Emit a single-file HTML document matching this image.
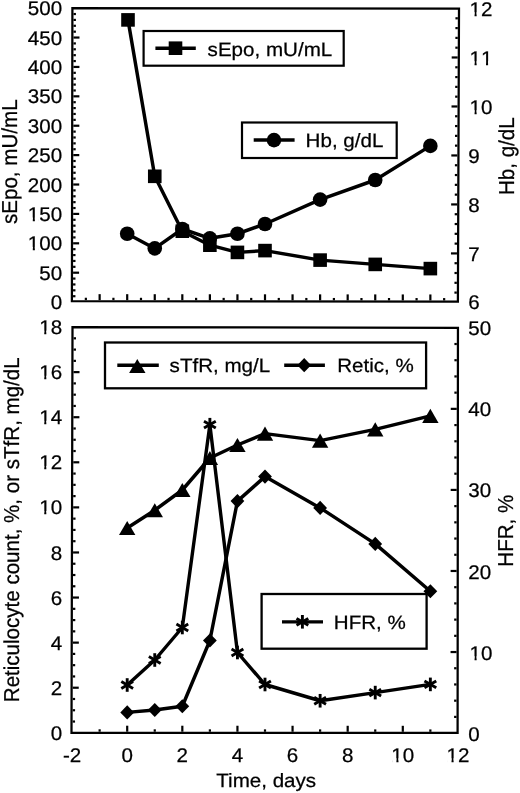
<!DOCTYPE html>
<html><head><meta charset="utf-8"><title>Chart</title>
<style>html,body{margin:0;padding:0;background:#fff;}svg{display:block;will-change:transform;}</style></head>
<body>
<svg width="520" height="793" viewBox="0 0 520 793">
<rect x="0" y="0" width="520" height="793" fill="#fff"/>
<polygon points="72.40,8.15 459.00,8.50 457.90,301.60 71.90,301.25" fill="none" stroke="#000" stroke-width="2.25" stroke-linejoin="miter"/>
<line x1="73.04" y1="296.22" x2="75.44" y2="296.22" stroke="#000" stroke-width="2.2" stroke-linecap="butt"/>
<line x1="73.05" y1="290.34" x2="75.45" y2="290.34" stroke="#000" stroke-width="2.2" stroke-linecap="butt"/>
<line x1="73.06" y1="284.46" x2="75.46" y2="284.46" stroke="#000" stroke-width="2.2" stroke-linecap="butt"/>
<line x1="73.07" y1="278.58" x2="75.47" y2="278.58" stroke="#000" stroke-width="2.2" stroke-linecap="butt"/>
<line x1="73.08" y1="272.70" x2="79.08" y2="272.70" stroke="#000" stroke-width="2.2" stroke-linecap="butt"/>
<line x1="73.09" y1="266.83" x2="75.49" y2="266.83" stroke="#000" stroke-width="2.2" stroke-linecap="butt"/>
<line x1="73.09" y1="260.95" x2="75.50" y2="260.95" stroke="#000" stroke-width="2.2" stroke-linecap="butt"/>
<line x1="73.11" y1="255.07" x2="75.51" y2="255.07" stroke="#000" stroke-width="2.2" stroke-linecap="butt"/>
<line x1="73.12" y1="249.19" x2="75.52" y2="249.19" stroke="#000" stroke-width="2.2" stroke-linecap="butt"/>
<line x1="73.12" y1="243.31" x2="79.12" y2="243.31" stroke="#000" stroke-width="2.2" stroke-linecap="butt"/>
<line x1="73.14" y1="237.43" x2="75.54" y2="237.43" stroke="#000" stroke-width="2.2" stroke-linecap="butt"/>
<line x1="73.15" y1="231.55" x2="75.55" y2="231.55" stroke="#000" stroke-width="2.2" stroke-linecap="butt"/>
<line x1="73.16" y1="225.67" x2="75.56" y2="225.67" stroke="#000" stroke-width="2.2" stroke-linecap="butt"/>
<line x1="73.17" y1="219.79" x2="75.57" y2="219.79" stroke="#000" stroke-width="2.2" stroke-linecap="butt"/>
<line x1="73.18" y1="213.91" x2="79.18" y2="213.91" stroke="#000" stroke-width="2.2" stroke-linecap="butt"/>
<line x1="73.19" y1="208.04" x2="75.59" y2="208.04" stroke="#000" stroke-width="2.2" stroke-linecap="butt"/>
<line x1="73.20" y1="202.16" x2="75.60" y2="202.16" stroke="#000" stroke-width="2.2" stroke-linecap="butt"/>
<line x1="73.21" y1="196.28" x2="75.61" y2="196.28" stroke="#000" stroke-width="2.2" stroke-linecap="butt"/>
<line x1="73.22" y1="190.40" x2="75.62" y2="190.40" stroke="#000" stroke-width="2.2" stroke-linecap="butt"/>
<line x1="73.23" y1="184.52" x2="79.23" y2="184.52" stroke="#000" stroke-width="2.2" stroke-linecap="butt"/>
<line x1="73.23" y1="178.64" x2="75.64" y2="178.64" stroke="#000" stroke-width="2.2" stroke-linecap="butt"/>
<line x1="73.25" y1="172.76" x2="75.65" y2="172.76" stroke="#000" stroke-width="2.2" stroke-linecap="butt"/>
<line x1="73.26" y1="166.88" x2="75.66" y2="166.88" stroke="#000" stroke-width="2.2" stroke-linecap="butt"/>
<line x1="73.27" y1="161.00" x2="75.67" y2="161.00" stroke="#000" stroke-width="2.2" stroke-linecap="butt"/>
<line x1="73.28" y1="155.12" x2="79.28" y2="155.12" stroke="#000" stroke-width="2.2" stroke-linecap="butt"/>
<line x1="73.29" y1="149.25" x2="75.69" y2="149.25" stroke="#000" stroke-width="2.2" stroke-linecap="butt"/>
<line x1="73.30" y1="143.37" x2="75.70" y2="143.37" stroke="#000" stroke-width="2.2" stroke-linecap="butt"/>
<line x1="73.31" y1="137.49" x2="75.71" y2="137.49" stroke="#000" stroke-width="2.2" stroke-linecap="butt"/>
<line x1="73.32" y1="131.61" x2="75.72" y2="131.61" stroke="#000" stroke-width="2.2" stroke-linecap="butt"/>
<line x1="73.33" y1="125.73" x2="79.33" y2="125.73" stroke="#000" stroke-width="2.2" stroke-linecap="butt"/>
<line x1="73.34" y1="119.85" x2="75.74" y2="119.85" stroke="#000" stroke-width="2.2" stroke-linecap="butt"/>
<line x1="73.34" y1="113.97" x2="75.75" y2="113.97" stroke="#000" stroke-width="2.2" stroke-linecap="butt"/>
<line x1="73.36" y1="108.09" x2="75.76" y2="108.09" stroke="#000" stroke-width="2.2" stroke-linecap="butt"/>
<line x1="73.37" y1="102.21" x2="75.77" y2="102.21" stroke="#000" stroke-width="2.2" stroke-linecap="butt"/>
<line x1="73.38" y1="96.33" x2="79.38" y2="96.33" stroke="#000" stroke-width="2.2" stroke-linecap="butt"/>
<line x1="73.39" y1="90.46" x2="75.79" y2="90.46" stroke="#000" stroke-width="2.2" stroke-linecap="butt"/>
<line x1="73.40" y1="84.58" x2="75.80" y2="84.58" stroke="#000" stroke-width="2.2" stroke-linecap="butt"/>
<line x1="73.41" y1="78.70" x2="75.81" y2="78.70" stroke="#000" stroke-width="2.2" stroke-linecap="butt"/>
<line x1="73.42" y1="72.82" x2="75.82" y2="72.82" stroke="#000" stroke-width="2.2" stroke-linecap="butt"/>
<line x1="73.43" y1="66.94" x2="79.43" y2="66.94" stroke="#000" stroke-width="2.2" stroke-linecap="butt"/>
<line x1="73.44" y1="61.06" x2="75.84" y2="61.06" stroke="#000" stroke-width="2.2" stroke-linecap="butt"/>
<line x1="73.45" y1="55.18" x2="75.85" y2="55.18" stroke="#000" stroke-width="2.2" stroke-linecap="butt"/>
<line x1="73.46" y1="49.30" x2="75.86" y2="49.30" stroke="#000" stroke-width="2.2" stroke-linecap="butt"/>
<line x1="73.47" y1="43.42" x2="75.87" y2="43.42" stroke="#000" stroke-width="2.2" stroke-linecap="butt"/>
<line x1="73.48" y1="37.54" x2="79.48" y2="37.54" stroke="#000" stroke-width="2.2" stroke-linecap="butt"/>
<line x1="73.48" y1="31.67" x2="75.89" y2="31.67" stroke="#000" stroke-width="2.2" stroke-linecap="butt"/>
<line x1="73.50" y1="25.79" x2="75.90" y2="25.79" stroke="#000" stroke-width="2.2" stroke-linecap="butt"/>
<line x1="73.51" y1="19.91" x2="75.91" y2="19.91" stroke="#000" stroke-width="2.2" stroke-linecap="butt"/>
<line x1="73.52" y1="14.03" x2="75.92" y2="14.03" stroke="#000" stroke-width="2.2" stroke-linecap="butt"/>
<line x1="456.81" y1="292.60" x2="454.41" y2="292.60" stroke="#000" stroke-width="2.2" stroke-linecap="butt"/>
<line x1="456.85" y1="282.81" x2="454.45" y2="282.81" stroke="#000" stroke-width="2.2" stroke-linecap="butt"/>
<line x1="456.88" y1="273.01" x2="454.49" y2="273.01" stroke="#000" stroke-width="2.2" stroke-linecap="butt"/>
<line x1="456.92" y1="263.21" x2="454.52" y2="263.21" stroke="#000" stroke-width="2.2" stroke-linecap="butt"/>
<line x1="456.96" y1="253.42" x2="450.96" y2="253.42" stroke="#000" stroke-width="2.2" stroke-linecap="butt"/>
<line x1="457.00" y1="243.62" x2="454.60" y2="243.62" stroke="#000" stroke-width="2.2" stroke-linecap="butt"/>
<line x1="457.03" y1="233.82" x2="454.63" y2="233.82" stroke="#000" stroke-width="2.2" stroke-linecap="butt"/>
<line x1="457.07" y1="224.03" x2="454.67" y2="224.03" stroke="#000" stroke-width="2.2" stroke-linecap="butt"/>
<line x1="457.10" y1="214.23" x2="454.70" y2="214.23" stroke="#000" stroke-width="2.2" stroke-linecap="butt"/>
<line x1="457.14" y1="204.43" x2="451.14" y2="204.43" stroke="#000" stroke-width="2.2" stroke-linecap="butt"/>
<line x1="457.18" y1="194.64" x2="454.78" y2="194.64" stroke="#000" stroke-width="2.2" stroke-linecap="butt"/>
<line x1="457.21" y1="184.84" x2="454.81" y2="184.84" stroke="#000" stroke-width="2.2" stroke-linecap="butt"/>
<line x1="457.25" y1="175.04" x2="454.85" y2="175.04" stroke="#000" stroke-width="2.2" stroke-linecap="butt"/>
<line x1="457.29" y1="165.25" x2="454.89" y2="165.25" stroke="#000" stroke-width="2.2" stroke-linecap="butt"/>
<line x1="457.32" y1="155.45" x2="451.32" y2="155.45" stroke="#000" stroke-width="2.2" stroke-linecap="butt"/>
<line x1="457.36" y1="145.65" x2="454.96" y2="145.65" stroke="#000" stroke-width="2.2" stroke-linecap="butt"/>
<line x1="457.40" y1="135.86" x2="455.00" y2="135.86" stroke="#000" stroke-width="2.2" stroke-linecap="butt"/>
<line x1="457.44" y1="126.06" x2="455.04" y2="126.06" stroke="#000" stroke-width="2.2" stroke-linecap="butt"/>
<line x1="457.47" y1="116.26" x2="455.07" y2="116.26" stroke="#000" stroke-width="2.2" stroke-linecap="butt"/>
<line x1="457.51" y1="106.47" x2="451.51" y2="106.47" stroke="#000" stroke-width="2.2" stroke-linecap="butt"/>
<line x1="457.55" y1="96.67" x2="455.15" y2="96.67" stroke="#000" stroke-width="2.2" stroke-linecap="butt"/>
<line x1="457.58" y1="86.87" x2="455.18" y2="86.87" stroke="#000" stroke-width="2.2" stroke-linecap="butt"/>
<line x1="457.62" y1="77.08" x2="455.22" y2="77.08" stroke="#000" stroke-width="2.2" stroke-linecap="butt"/>
<line x1="457.65" y1="67.28" x2="455.25" y2="67.28" stroke="#000" stroke-width="2.2" stroke-linecap="butt"/>
<line x1="457.69" y1="57.48" x2="451.69" y2="57.48" stroke="#000" stroke-width="2.2" stroke-linecap="butt"/>
<line x1="457.73" y1="47.69" x2="455.33" y2="47.69" stroke="#000" stroke-width="2.2" stroke-linecap="butt"/>
<line x1="457.76" y1="37.89" x2="455.37" y2="37.89" stroke="#000" stroke-width="2.2" stroke-linecap="butt"/>
<line x1="457.80" y1="28.09" x2="455.40" y2="28.09" stroke="#000" stroke-width="2.2" stroke-linecap="butt"/>
<line x1="457.84" y1="18.30" x2="455.44" y2="18.30" stroke="#000" stroke-width="2.2" stroke-linecap="butt"/>
<line x1="85.86" y1="300.14" x2="85.86" y2="297.74" stroke="#000" stroke-width="2.2" stroke-linecap="butt"/>
<line x1="99.64" y1="300.15" x2="99.64" y2="294.15" stroke="#000" stroke-width="2.2" stroke-linecap="butt"/>
<line x1="113.42" y1="300.16" x2="113.42" y2="297.76" stroke="#000" stroke-width="2.2" stroke-linecap="butt"/>
<line x1="127.20" y1="300.18" x2="127.20" y2="294.18" stroke="#000" stroke-width="2.2" stroke-linecap="butt"/>
<line x1="140.98" y1="300.19" x2="140.98" y2="297.79" stroke="#000" stroke-width="2.2" stroke-linecap="butt"/>
<line x1="154.76" y1="300.20" x2="154.76" y2="294.20" stroke="#000" stroke-width="2.2" stroke-linecap="butt"/>
<line x1="168.54" y1="300.21" x2="168.54" y2="297.81" stroke="#000" stroke-width="2.2" stroke-linecap="butt"/>
<line x1="182.32" y1="300.23" x2="182.32" y2="294.23" stroke="#000" stroke-width="2.2" stroke-linecap="butt"/>
<line x1="196.10" y1="300.24" x2="196.10" y2="297.84" stroke="#000" stroke-width="2.2" stroke-linecap="butt"/>
<line x1="209.88" y1="300.25" x2="209.88" y2="294.25" stroke="#000" stroke-width="2.2" stroke-linecap="butt"/>
<line x1="223.66" y1="300.26" x2="223.66" y2="297.86" stroke="#000" stroke-width="2.2" stroke-linecap="butt"/>
<line x1="237.44" y1="300.28" x2="237.44" y2="294.28" stroke="#000" stroke-width="2.2" stroke-linecap="butt"/>
<line x1="251.22" y1="300.29" x2="251.22" y2="297.89" stroke="#000" stroke-width="2.2" stroke-linecap="butt"/>
<line x1="265.00" y1="300.30" x2="265.00" y2="294.30" stroke="#000" stroke-width="2.2" stroke-linecap="butt"/>
<line x1="278.78" y1="300.31" x2="278.78" y2="297.91" stroke="#000" stroke-width="2.2" stroke-linecap="butt"/>
<line x1="292.56" y1="300.32" x2="292.56" y2="294.32" stroke="#000" stroke-width="2.2" stroke-linecap="butt"/>
<line x1="306.34" y1="300.34" x2="306.34" y2="297.94" stroke="#000" stroke-width="2.2" stroke-linecap="butt"/>
<line x1="320.12" y1="300.35" x2="320.12" y2="294.35" stroke="#000" stroke-width="2.2" stroke-linecap="butt"/>
<line x1="333.90" y1="300.36" x2="333.90" y2="297.96" stroke="#000" stroke-width="2.2" stroke-linecap="butt"/>
<line x1="347.68" y1="300.38" x2="347.68" y2="294.38" stroke="#000" stroke-width="2.2" stroke-linecap="butt"/>
<line x1="361.46" y1="300.39" x2="361.46" y2="297.99" stroke="#000" stroke-width="2.2" stroke-linecap="butt"/>
<line x1="375.24" y1="300.40" x2="375.24" y2="294.40" stroke="#000" stroke-width="2.2" stroke-linecap="butt"/>
<line x1="389.02" y1="300.41" x2="389.02" y2="298.01" stroke="#000" stroke-width="2.2" stroke-linecap="butt"/>
<line x1="402.80" y1="300.43" x2="402.80" y2="294.43" stroke="#000" stroke-width="2.2" stroke-linecap="butt"/>
<line x1="416.58" y1="300.44" x2="416.58" y2="298.04" stroke="#000" stroke-width="2.2" stroke-linecap="butt"/>
<line x1="430.36" y1="300.45" x2="430.36" y2="294.45" stroke="#000" stroke-width="2.2" stroke-linecap="butt"/>
<line x1="444.14" y1="300.46" x2="444.14" y2="298.06" stroke="#000" stroke-width="2.2" stroke-linecap="butt"/>
<text x="0" y="0" font-size="19.8" text-anchor="end" font-family="Liberation Sans, sans-serif" fill="#000" stroke="#000" stroke-width="0.25" text-rendering="geometricPrecision" style="font-kerning:none" transform="translate(62.10 309.15) scale(1.04 1)">0</text>
<text x="0" y="0" font-size="19.8" text-anchor="end" font-family="Liberation Sans, sans-serif" fill="#000" stroke="#000" stroke-width="0.25" text-rendering="geometricPrecision" style="font-kerning:none" transform="translate(62.10 279.75) scale(1.04 1)">50</text>
<text x="0" y="0" font-size="19.8" text-anchor="end" font-family="Liberation Sans, sans-serif" fill="#000" stroke="#000" stroke-width="0.25" text-rendering="geometricPrecision" style="font-kerning:none" transform="translate(62.10 250.36) scale(1.04 1)">100</text>
<rect x="28.61" y="246.88" width="4.18" height="5.48" fill="#fff"/>
<rect x="34.87" y="246.88" width="4.02" height="5.48" fill="#fff"/>
<text x="0" y="0" font-size="19.8" text-anchor="end" font-family="Liberation Sans, sans-serif" fill="#000" stroke="#000" stroke-width="0.25" text-rendering="geometricPrecision" style="font-kerning:none" transform="translate(62.10 220.97) scale(1.04 1)">150</text>
<rect x="28.61" y="217.49" width="4.18" height="5.48" fill="#fff"/>
<rect x="34.87" y="217.49" width="4.02" height="5.48" fill="#fff"/>
<text x="0" y="0" font-size="19.8" text-anchor="end" font-family="Liberation Sans, sans-serif" fill="#000" stroke="#000" stroke-width="0.25" text-rendering="geometricPrecision" style="font-kerning:none" transform="translate(62.10 191.57) scale(1.04 1)">200</text>
<text x="0" y="0" font-size="19.8" text-anchor="end" font-family="Liberation Sans, sans-serif" fill="#000" stroke="#000" stroke-width="0.25" text-rendering="geometricPrecision" style="font-kerning:none" transform="translate(62.10 162.18) scale(1.04 1)">250</text>
<text x="0" y="0" font-size="19.8" text-anchor="end" font-family="Liberation Sans, sans-serif" fill="#000" stroke="#000" stroke-width="0.25" text-rendering="geometricPrecision" style="font-kerning:none" transform="translate(62.10 132.78) scale(1.04 1)">300</text>
<text x="0" y="0" font-size="19.8" text-anchor="end" font-family="Liberation Sans, sans-serif" fill="#000" stroke="#000" stroke-width="0.25" text-rendering="geometricPrecision" style="font-kerning:none" transform="translate(62.10 103.38) scale(1.04 1)">350</text>
<text x="0" y="0" font-size="19.8" text-anchor="end" font-family="Liberation Sans, sans-serif" fill="#000" stroke="#000" stroke-width="0.25" text-rendering="geometricPrecision" style="font-kerning:none" transform="translate(62.10 73.99) scale(1.04 1)">400</text>
<text x="0" y="0" font-size="19.8" text-anchor="end" font-family="Liberation Sans, sans-serif" fill="#000" stroke="#000" stroke-width="0.25" text-rendering="geometricPrecision" style="font-kerning:none" transform="translate(62.10 44.59) scale(1.04 1)">450</text>
<text x="0" y="0" font-size="19.8" text-anchor="end" font-family="Liberation Sans, sans-serif" fill="#000" stroke="#000" stroke-width="0.25" text-rendering="geometricPrecision" style="font-kerning:none" transform="translate(62.10 15.20) scale(1.04 1)">500</text>
<text x="0" y="0" font-size="19.8" text-anchor="start" font-family="Liberation Sans, sans-serif" fill="#000" stroke="#000" stroke-width="0.25" text-rendering="geometricPrecision" style="font-kerning:none" transform="translate(468.30 309.49) scale(1.04 1)">6</text>
<text x="0" y="0" font-size="19.8" text-anchor="start" font-family="Liberation Sans, sans-serif" fill="#000" stroke="#000" stroke-width="0.25" text-rendering="geometricPrecision" style="font-kerning:none" transform="translate(468.30 260.51) scale(1.04 1)">7</text>
<text x="0" y="0" font-size="19.8" text-anchor="start" font-family="Liberation Sans, sans-serif" fill="#000" stroke="#000" stroke-width="0.25" text-rendering="geometricPrecision" style="font-kerning:none" transform="translate(468.30 211.52) scale(1.04 1)">8</text>
<text x="0" y="0" font-size="19.8" text-anchor="start" font-family="Liberation Sans, sans-serif" fill="#000" stroke="#000" stroke-width="0.25" text-rendering="geometricPrecision" style="font-kerning:none" transform="translate(468.30 162.54) scale(1.04 1)">9</text>
<text x="0" y="0" font-size="19.8" text-anchor="start" font-family="Liberation Sans, sans-serif" fill="#000" stroke="#000" stroke-width="0.25" text-rendering="geometricPrecision" style="font-kerning:none" transform="translate(469.50 113.56) scale(1.04 1)">10</text>
<rect x="470.37" y="110.08" width="4.18" height="5.48" fill="#fff"/>
<rect x="476.63" y="110.08" width="4.02" height="5.48" fill="#fff"/>
<text x="0" y="0" font-size="19.8" text-anchor="start" font-family="Liberation Sans, sans-serif" fill="#000" stroke="#000" stroke-width="0.25" text-rendering="geometricPrecision" style="font-kerning:none" transform="translate(469.50 64.57) scale(1.04 1)">11</text>
<rect x="470.37" y="61.09" width="4.18" height="5.48" fill="#fff"/>
<rect x="476.63" y="61.09" width="4.02" height="5.48" fill="#fff"/>
<rect x="481.82" y="61.09" width="4.18" height="5.48" fill="#fff"/>
<rect x="488.08" y="61.09" width="4.02" height="5.48" fill="#fff"/>
<text x="0" y="0" font-size="19.8" text-anchor="start" font-family="Liberation Sans, sans-serif" fill="#000" stroke="#000" stroke-width="0.25" text-rendering="geometricPrecision" style="font-kerning:none" transform="translate(469.50 15.59) scale(1.04 1)">12</text>
<rect x="470.37" y="12.11" width="4.18" height="5.48" fill="#fff"/>
<rect x="476.63" y="12.11" width="4.02" height="5.48" fill="#fff"/>
<polygon points="72.50,327.05 457.95,327.80 457.60,732.95 71.50,732.80" fill="none" stroke="#000" stroke-width="2.25" stroke-linejoin="miter"/>
<line x1="72.65" y1="721.53" x2="75.05" y2="721.53" stroke="#000" stroke-width="2.2" stroke-linecap="butt"/>
<line x1="72.68" y1="710.26" x2="75.08" y2="710.26" stroke="#000" stroke-width="2.2" stroke-linecap="butt"/>
<line x1="72.71" y1="698.99" x2="75.11" y2="698.99" stroke="#000" stroke-width="2.2" stroke-linecap="butt"/>
<line x1="72.74" y1="687.72" x2="78.74" y2="687.72" stroke="#000" stroke-width="2.2" stroke-linecap="butt"/>
<line x1="72.76" y1="676.45" x2="75.16" y2="676.45" stroke="#000" stroke-width="2.2" stroke-linecap="butt"/>
<line x1="72.79" y1="665.17" x2="75.19" y2="665.17" stroke="#000" stroke-width="2.2" stroke-linecap="butt"/>
<line x1="72.82" y1="653.90" x2="75.22" y2="653.90" stroke="#000" stroke-width="2.2" stroke-linecap="butt"/>
<line x1="72.85" y1="642.63" x2="78.85" y2="642.63" stroke="#000" stroke-width="2.2" stroke-linecap="butt"/>
<line x1="72.88" y1="631.36" x2="75.28" y2="631.36" stroke="#000" stroke-width="2.2" stroke-linecap="butt"/>
<line x1="72.90" y1="620.09" x2="75.30" y2="620.09" stroke="#000" stroke-width="2.2" stroke-linecap="butt"/>
<line x1="72.93" y1="608.82" x2="75.33" y2="608.82" stroke="#000" stroke-width="2.2" stroke-linecap="butt"/>
<line x1="72.96" y1="597.55" x2="78.96" y2="597.55" stroke="#000" stroke-width="2.2" stroke-linecap="butt"/>
<line x1="72.99" y1="586.28" x2="75.39" y2="586.28" stroke="#000" stroke-width="2.2" stroke-linecap="butt"/>
<line x1="73.01" y1="575.01" x2="75.41" y2="575.01" stroke="#000" stroke-width="2.2" stroke-linecap="butt"/>
<line x1="73.04" y1="563.74" x2="75.44" y2="563.74" stroke="#000" stroke-width="2.2" stroke-linecap="butt"/>
<line x1="73.07" y1="552.47" x2="79.07" y2="552.47" stroke="#000" stroke-width="2.2" stroke-linecap="butt"/>
<line x1="73.10" y1="541.20" x2="75.50" y2="541.20" stroke="#000" stroke-width="2.2" stroke-linecap="butt"/>
<line x1="73.12" y1="529.92" x2="75.53" y2="529.92" stroke="#000" stroke-width="2.2" stroke-linecap="butt"/>
<line x1="73.15" y1="518.65" x2="75.55" y2="518.65" stroke="#000" stroke-width="2.2" stroke-linecap="butt"/>
<line x1="73.18" y1="507.38" x2="79.18" y2="507.38" stroke="#000" stroke-width="2.2" stroke-linecap="butt"/>
<line x1="73.21" y1="496.11" x2="75.61" y2="496.11" stroke="#000" stroke-width="2.2" stroke-linecap="butt"/>
<line x1="73.24" y1="484.84" x2="75.64" y2="484.84" stroke="#000" stroke-width="2.2" stroke-linecap="butt"/>
<line x1="73.26" y1="473.57" x2="75.66" y2="473.57" stroke="#000" stroke-width="2.2" stroke-linecap="butt"/>
<line x1="73.29" y1="462.30" x2="79.29" y2="462.30" stroke="#000" stroke-width="2.2" stroke-linecap="butt"/>
<line x1="73.32" y1="451.03" x2="75.72" y2="451.03" stroke="#000" stroke-width="2.2" stroke-linecap="butt"/>
<line x1="73.35" y1="439.76" x2="75.75" y2="439.76" stroke="#000" stroke-width="2.2" stroke-linecap="butt"/>
<line x1="73.38" y1="428.49" x2="75.78" y2="428.49" stroke="#000" stroke-width="2.2" stroke-linecap="butt"/>
<line x1="73.40" y1="417.22" x2="79.40" y2="417.22" stroke="#000" stroke-width="2.2" stroke-linecap="butt"/>
<line x1="73.43" y1="405.95" x2="75.83" y2="405.95" stroke="#000" stroke-width="2.2" stroke-linecap="butt"/>
<line x1="73.46" y1="394.68" x2="75.86" y2="394.68" stroke="#000" stroke-width="2.2" stroke-linecap="butt"/>
<line x1="73.49" y1="383.40" x2="75.89" y2="383.40" stroke="#000" stroke-width="2.2" stroke-linecap="butt"/>
<line x1="73.51" y1="372.13" x2="79.51" y2="372.13" stroke="#000" stroke-width="2.2" stroke-linecap="butt"/>
<line x1="73.54" y1="360.86" x2="75.94" y2="360.86" stroke="#000" stroke-width="2.2" stroke-linecap="butt"/>
<line x1="73.57" y1="349.59" x2="75.97" y2="349.59" stroke="#000" stroke-width="2.2" stroke-linecap="butt"/>
<line x1="73.60" y1="338.32" x2="76.00" y2="338.32" stroke="#000" stroke-width="2.2" stroke-linecap="butt"/>
<line x1="456.49" y1="716.89" x2="454.09" y2="716.89" stroke="#000" stroke-width="2.2" stroke-linecap="butt"/>
<line x1="456.50" y1="700.68" x2="454.10" y2="700.68" stroke="#000" stroke-width="2.2" stroke-linecap="butt"/>
<line x1="456.52" y1="684.46" x2="454.12" y2="684.46" stroke="#000" stroke-width="2.2" stroke-linecap="butt"/>
<line x1="456.53" y1="668.25" x2="454.13" y2="668.25" stroke="#000" stroke-width="2.2" stroke-linecap="butt"/>
<line x1="456.55" y1="652.04" x2="450.55" y2="652.04" stroke="#000" stroke-width="2.2" stroke-linecap="butt"/>
<line x1="456.56" y1="635.83" x2="454.16" y2="635.83" stroke="#000" stroke-width="2.2" stroke-linecap="butt"/>
<line x1="456.57" y1="619.62" x2="454.17" y2="619.62" stroke="#000" stroke-width="2.2" stroke-linecap="butt"/>
<line x1="456.59" y1="603.40" x2="454.19" y2="603.40" stroke="#000" stroke-width="2.2" stroke-linecap="butt"/>
<line x1="456.60" y1="587.19" x2="454.20" y2="587.19" stroke="#000" stroke-width="2.2" stroke-linecap="butt"/>
<line x1="456.62" y1="570.98" x2="450.62" y2="570.98" stroke="#000" stroke-width="2.2" stroke-linecap="butt"/>
<line x1="456.63" y1="554.77" x2="454.23" y2="554.77" stroke="#000" stroke-width="2.2" stroke-linecap="butt"/>
<line x1="456.64" y1="538.56" x2="454.24" y2="538.56" stroke="#000" stroke-width="2.2" stroke-linecap="butt"/>
<line x1="456.66" y1="522.34" x2="454.26" y2="522.34" stroke="#000" stroke-width="2.2" stroke-linecap="butt"/>
<line x1="456.67" y1="506.13" x2="454.27" y2="506.13" stroke="#000" stroke-width="2.2" stroke-linecap="butt"/>
<line x1="456.69" y1="489.92" x2="450.69" y2="489.92" stroke="#000" stroke-width="2.2" stroke-linecap="butt"/>
<line x1="456.70" y1="473.71" x2="454.30" y2="473.71" stroke="#000" stroke-width="2.2" stroke-linecap="butt"/>
<line x1="456.71" y1="457.50" x2="454.31" y2="457.50" stroke="#000" stroke-width="2.2" stroke-linecap="butt"/>
<line x1="456.73" y1="441.28" x2="454.33" y2="441.28" stroke="#000" stroke-width="2.2" stroke-linecap="butt"/>
<line x1="456.74" y1="425.07" x2="454.34" y2="425.07" stroke="#000" stroke-width="2.2" stroke-linecap="butt"/>
<line x1="456.75" y1="408.86" x2="450.75" y2="408.86" stroke="#000" stroke-width="2.2" stroke-linecap="butt"/>
<line x1="456.77" y1="392.65" x2="454.37" y2="392.65" stroke="#000" stroke-width="2.2" stroke-linecap="butt"/>
<line x1="456.78" y1="376.44" x2="454.38" y2="376.44" stroke="#000" stroke-width="2.2" stroke-linecap="butt"/>
<line x1="456.80" y1="360.22" x2="454.40" y2="360.22" stroke="#000" stroke-width="2.2" stroke-linecap="butt"/>
<line x1="456.81" y1="344.01" x2="454.41" y2="344.01" stroke="#000" stroke-width="2.2" stroke-linecap="butt"/>
<line x1="99.64" y1="731.69" x2="99.64" y2="729.29" stroke="#000" stroke-width="2.2" stroke-linecap="butt"/>
<line x1="127.20" y1="731.70" x2="127.20" y2="725.70" stroke="#000" stroke-width="2.2" stroke-linecap="butt"/>
<line x1="154.76" y1="731.71" x2="154.76" y2="729.31" stroke="#000" stroke-width="2.2" stroke-linecap="butt"/>
<line x1="182.32" y1="731.72" x2="182.32" y2="725.72" stroke="#000" stroke-width="2.2" stroke-linecap="butt"/>
<line x1="209.88" y1="731.73" x2="209.88" y2="729.33" stroke="#000" stroke-width="2.2" stroke-linecap="butt"/>
<line x1="237.44" y1="731.74" x2="237.44" y2="725.74" stroke="#000" stroke-width="2.2" stroke-linecap="butt"/>
<line x1="265.00" y1="731.75" x2="265.00" y2="729.35" stroke="#000" stroke-width="2.2" stroke-linecap="butt"/>
<line x1="292.56" y1="731.76" x2="292.56" y2="725.76" stroke="#000" stroke-width="2.2" stroke-linecap="butt"/>
<line x1="320.12" y1="731.77" x2="320.12" y2="729.37" stroke="#000" stroke-width="2.2" stroke-linecap="butt"/>
<line x1="347.68" y1="731.78" x2="347.68" y2="725.78" stroke="#000" stroke-width="2.2" stroke-linecap="butt"/>
<line x1="375.24" y1="731.79" x2="375.24" y2="729.39" stroke="#000" stroke-width="2.2" stroke-linecap="butt"/>
<line x1="402.80" y1="731.80" x2="402.80" y2="725.80" stroke="#000" stroke-width="2.2" stroke-linecap="butt"/>
<line x1="430.36" y1="731.81" x2="430.36" y2="729.41" stroke="#000" stroke-width="2.2" stroke-linecap="butt"/>
<text x="0" y="0" font-size="19.8" text-anchor="end" font-family="Liberation Sans, sans-serif" fill="#000" stroke="#000" stroke-width="0.25" text-rendering="geometricPrecision" style="font-kerning:none" transform="translate(62.10 739.85) scale(1.04 1)">0</text>
<text x="0" y="0" font-size="19.8" text-anchor="end" font-family="Liberation Sans, sans-serif" fill="#000" stroke="#000" stroke-width="0.25" text-rendering="geometricPrecision" style="font-kerning:none" transform="translate(62.10 694.77) scale(1.04 1)">2</text>
<text x="0" y="0" font-size="19.8" text-anchor="end" font-family="Liberation Sans, sans-serif" fill="#000" stroke="#000" stroke-width="0.25" text-rendering="geometricPrecision" style="font-kerning:none" transform="translate(62.10 649.68) scale(1.04 1)">4</text>
<text x="0" y="0" font-size="19.8" text-anchor="end" font-family="Liberation Sans, sans-serif" fill="#000" stroke="#000" stroke-width="0.25" text-rendering="geometricPrecision" style="font-kerning:none" transform="translate(62.10 604.60) scale(1.04 1)">6</text>
<text x="0" y="0" font-size="19.8" text-anchor="end" font-family="Liberation Sans, sans-serif" fill="#000" stroke="#000" stroke-width="0.25" text-rendering="geometricPrecision" style="font-kerning:none" transform="translate(62.10 559.52) scale(1.04 1)">8</text>
<text x="0" y="0" font-size="19.8" text-anchor="end" font-family="Liberation Sans, sans-serif" fill="#000" stroke="#000" stroke-width="0.25" text-rendering="geometricPrecision" style="font-kerning:none" transform="translate(62.10 514.43) scale(1.04 1)">10</text>
<rect x="40.06" y="510.95" width="4.18" height="5.48" fill="#fff"/>
<rect x="46.32" y="510.95" width="4.02" height="5.48" fill="#fff"/>
<text x="0" y="0" font-size="19.8" text-anchor="end" font-family="Liberation Sans, sans-serif" fill="#000" stroke="#000" stroke-width="0.25" text-rendering="geometricPrecision" style="font-kerning:none" transform="translate(62.10 469.35) scale(1.04 1)">12</text>
<rect x="40.06" y="465.87" width="4.18" height="5.48" fill="#fff"/>
<rect x="46.32" y="465.87" width="4.02" height="5.48" fill="#fff"/>
<text x="0" y="0" font-size="19.8" text-anchor="end" font-family="Liberation Sans, sans-serif" fill="#000" stroke="#000" stroke-width="0.25" text-rendering="geometricPrecision" style="font-kerning:none" transform="translate(62.10 424.27) scale(1.04 1)">14</text>
<rect x="40.06" y="420.79" width="4.18" height="5.48" fill="#fff"/>
<rect x="46.32" y="420.79" width="4.02" height="5.48" fill="#fff"/>
<text x="0" y="0" font-size="19.8" text-anchor="end" font-family="Liberation Sans, sans-serif" fill="#000" stroke="#000" stroke-width="0.25" text-rendering="geometricPrecision" style="font-kerning:none" transform="translate(62.10 379.18) scale(1.04 1)">16</text>
<rect x="40.06" y="375.70" width="4.18" height="5.48" fill="#fff"/>
<rect x="46.32" y="375.70" width="4.02" height="5.48" fill="#fff"/>
<text x="0" y="0" font-size="19.8" text-anchor="end" font-family="Liberation Sans, sans-serif" fill="#000" stroke="#000" stroke-width="0.25" text-rendering="geometricPrecision" style="font-kerning:none" transform="translate(62.10 334.10) scale(1.04 1)">18</text>
<rect x="40.06" y="330.62" width="4.18" height="5.48" fill="#fff"/>
<rect x="46.32" y="330.62" width="4.02" height="5.48" fill="#fff"/>
<text x="0" y="0" font-size="19.8" text-anchor="start" font-family="Liberation Sans, sans-serif" fill="#000" stroke="#000" stroke-width="0.25" text-rendering="geometricPrecision" style="font-kerning:none" transform="translate(468.30 740.64) scale(1.04 1)">0</text>
<text x="0" y="0" font-size="19.8" text-anchor="start" font-family="Liberation Sans, sans-serif" fill="#000" stroke="#000" stroke-width="0.25" text-rendering="geometricPrecision" style="font-kerning:none" transform="translate(469.50 659.59) scale(1.04 1)">10</text>
<rect x="470.37" y="656.11" width="4.18" height="5.48" fill="#fff"/>
<rect x="476.63" y="656.11" width="4.02" height="5.48" fill="#fff"/>
<text x="0" y="0" font-size="19.8" text-anchor="start" font-family="Liberation Sans, sans-serif" fill="#000" stroke="#000" stroke-width="0.25" text-rendering="geometricPrecision" style="font-kerning:none" transform="translate(468.30 578.52) scale(1.04 1)">20</text>
<text x="0" y="0" font-size="19.8" text-anchor="start" font-family="Liberation Sans, sans-serif" fill="#000" stroke="#000" stroke-width="0.25" text-rendering="geometricPrecision" style="font-kerning:none" transform="translate(468.30 497.46) scale(1.04 1)">30</text>
<text x="0" y="0" font-size="19.8" text-anchor="start" font-family="Liberation Sans, sans-serif" fill="#000" stroke="#000" stroke-width="0.25" text-rendering="geometricPrecision" style="font-kerning:none" transform="translate(468.30 416.40) scale(1.04 1)">40</text>
<text x="0" y="0" font-size="19.8" text-anchor="start" font-family="Liberation Sans, sans-serif" fill="#000" stroke="#000" stroke-width="0.25" text-rendering="geometricPrecision" style="font-kerning:none" transform="translate(468.30 335.34) scale(1.04 1)">50</text>
<text x="0" y="0" font-size="19.8" text-anchor="middle" font-family="Liberation Sans, sans-serif" fill="#000" stroke="#000" stroke-width="0.25" text-rendering="geometricPrecision" style="font-kerning:none" transform="translate(72.08 761.50) scale(1.04 1)">-2</text>
<text x="0" y="0" font-size="19.8" text-anchor="middle" font-family="Liberation Sans, sans-serif" fill="#000" stroke="#000" stroke-width="0.25" text-rendering="geometricPrecision" style="font-kerning:none" transform="translate(127.20 761.52) scale(1.04 1)">0</text>
<text x="0" y="0" font-size="19.8" text-anchor="middle" font-family="Liberation Sans, sans-serif" fill="#000" stroke="#000" stroke-width="0.25" text-rendering="geometricPrecision" style="font-kerning:none" transform="translate(182.32 761.54) scale(1.04 1)">2</text>
<text x="0" y="0" font-size="19.8" text-anchor="middle" font-family="Liberation Sans, sans-serif" fill="#000" stroke="#000" stroke-width="0.25" text-rendering="geometricPrecision" style="font-kerning:none" transform="translate(237.44 761.56) scale(1.04 1)">4</text>
<text x="0" y="0" font-size="19.8" text-anchor="middle" font-family="Liberation Sans, sans-serif" fill="#000" stroke="#000" stroke-width="0.25" text-rendering="geometricPrecision" style="font-kerning:none" transform="translate(292.56 761.59) scale(1.04 1)">6</text>
<text x="0" y="0" font-size="19.8" text-anchor="middle" font-family="Liberation Sans, sans-serif" fill="#000" stroke="#000" stroke-width="0.25" text-rendering="geometricPrecision" style="font-kerning:none" transform="translate(347.68 761.61) scale(1.04 1)">8</text>
<text x="0" y="0" font-size="19.8" text-anchor="middle" font-family="Liberation Sans, sans-serif" fill="#000" stroke="#000" stroke-width="0.25" text-rendering="geometricPrecision" style="font-kerning:none" transform="translate(402.80 761.63) scale(1.04 1)">10</text>
<rect x="392.22" y="758.15" width="4.18" height="5.48" fill="#fff"/>
<rect x="398.48" y="758.15" width="4.02" height="5.48" fill="#fff"/>
<text x="0" y="0" font-size="19.8" text-anchor="middle" font-family="Liberation Sans, sans-serif" fill="#000" stroke="#000" stroke-width="0.25" text-rendering="geometricPrecision" style="font-kerning:none" transform="translate(457.92 761.65) scale(1.04 1)">12</text>
<rect x="447.34" y="758.17" width="4.18" height="5.48" fill="#fff"/>
<rect x="453.60" y="758.17" width="4.02" height="5.48" fill="#fff"/>
<rect x="143.60" y="31.00" width="200.10" height="34.70" fill="#fff" stroke="#000" stroke-width="2.2"/>
<line x1="155.40" y1="48.20" x2="195.80" y2="48.20" stroke="#000" stroke-width="3.45" stroke-linecap="butt"/>
<rect x="168.70" y="41.40" width="13.6" height="13.6" fill="#000"/>
<text x="0" y="0" font-size="19.3" text-anchor="start" font-family="Liberation Sans, sans-serif" fill="#000" stroke="#000" stroke-width="0.25" text-rendering="geometricPrecision" transform="translate(207.60 56.20) scale(1.067 1)">sEpo, mU/mL</text>
<rect x="242.00" y="122.50" width="154.70" height="35.50" fill="#fff" stroke="#000" stroke-width="2.2"/>
<line x1="253.70" y1="140.00" x2="294.60" y2="140.00" stroke="#000" stroke-width="3.45" stroke-linecap="butt"/>
<circle cx="274.00" cy="140.10" r="7.3" fill="#000"/>
<text x="0" y="0" font-size="19.3" text-anchor="start" font-family="Liberation Sans, sans-serif" fill="#000" stroke="#000" stroke-width="0.25" text-rendering="geometricPrecision" transform="translate(305.60 147.20) scale(1.067 1)">Hb, g/dL</text>
<rect x="105.00" y="342.50" width="321.10" height="45.80" fill="#fff" stroke="#000" stroke-width="2.3"/>
<line x1="117.30" y1="365.30" x2="158.80" y2="365.30" stroke="#000" stroke-width="3.45" stroke-linecap="butt"/>
<polygon points="137.30,358.90 145.50,373.10 129.10,373.10" fill="#000"/>
<text x="0" y="0" font-size="19.3" text-anchor="start" font-family="Liberation Sans, sans-serif" fill="#000" stroke="#000" stroke-width="0.25" text-rendering="geometricPrecision" transform="translate(169.60 372.30) scale(1.067 1)">sTfR, mg/L</text>
<line x1="284.20" y1="365.20" x2="324.90" y2="365.20" stroke="#000" stroke-width="3.45" stroke-linecap="butt"/>
<polygon points="304.20,358.10 311.10,365.20 304.20,372.30 297.30,365.20" fill="#000"/>
<text x="0" y="0" font-size="19.3" text-anchor="start" font-family="Liberation Sans, sans-serif" fill="#000" stroke="#000" stroke-width="0.25" text-rendering="geometricPrecision" transform="translate(337.20 372.30) scale(1.067 1)">Retic, %</text>
<rect x="261.60" y="594.00" width="165.00" height="54.70" fill="#fff" stroke="#000" stroke-width="2.3"/>
<line x1="282.00" y1="621.80" x2="323.00" y2="621.80" stroke="#000" stroke-width="3.3" stroke-linecap="butt"/>
<line x1="302.40" y1="615.00" x2="302.40" y2="628.60" stroke="#000" stroke-width="2.9"/>
<line x1="296.51" y1="618.40" x2="308.29" y2="625.20" stroke="#000" stroke-width="2.9"/>
<line x1="308.29" y1="618.40" x2="296.51" y2="625.20" stroke="#000" stroke-width="2.9"/>
<text x="0" y="0" font-size="19.3" text-anchor="start" font-family="Liberation Sans, sans-serif" fill="#000" stroke="#000" stroke-width="0.25" text-rendering="geometricPrecision" transform="translate(333.80 629.00) scale(1.067 1)">HFR, %</text>
<polyline points="128.00,19.90 154.76,176.30 182.32,231.20 209.88,245.20 237.44,252.40 265.00,250.60 320.12,260.10 375.24,264.40 430.36,268.60" fill="none" stroke="#000" stroke-width="3.45" stroke-linejoin="round" stroke-linecap="round"/>
<polyline points="127.20,233.75 154.76,248.40 182.32,229.00 209.88,238.30 237.44,233.75 265.00,224.00 320.12,199.60 375.24,180.00 430.36,145.90" fill="none" stroke="#000" stroke-width="3.45" stroke-linejoin="round" stroke-linecap="round"/>
<rect x="121.20" y="13.10" width="13.6" height="13.6" fill="#000"/>
<rect x="147.96" y="169.50" width="13.6" height="13.6" fill="#000"/>
<rect x="175.52" y="224.40" width="13.6" height="13.6" fill="#000"/>
<rect x="203.08" y="238.40" width="13.6" height="13.6" fill="#000"/>
<rect x="230.64" y="245.60" width="13.6" height="13.6" fill="#000"/>
<rect x="258.20" y="243.80" width="13.6" height="13.6" fill="#000"/>
<rect x="313.32" y="253.30" width="13.6" height="13.6" fill="#000"/>
<rect x="368.44" y="257.60" width="13.6" height="13.6" fill="#000"/>
<rect x="423.56" y="261.80" width="13.6" height="13.6" fill="#000"/>
<circle cx="127.20" cy="233.75" r="7.3" fill="#000"/>
<circle cx="154.76" cy="248.40" r="7.3" fill="#000"/>
<circle cx="182.32" cy="229.00" r="7.3" fill="#000"/>
<circle cx="209.88" cy="238.30" r="7.3" fill="#000"/>
<circle cx="237.44" cy="233.75" r="7.3" fill="#000"/>
<circle cx="265.00" cy="224.00" r="7.3" fill="#000"/>
<circle cx="320.12" cy="199.60" r="7.3" fill="#000"/>
<circle cx="375.24" cy="180.00" r="7.3" fill="#000"/>
<circle cx="430.36" cy="145.90" r="7.3" fill="#000"/>
<polyline points="127.20,528.00 154.76,510.25 182.32,490.00 209.88,458.00 237.44,445.00 265.00,433.60 320.12,440.60 375.24,429.40 430.36,415.90" fill="none" stroke="#000" stroke-width="3.45" stroke-linejoin="round" stroke-linecap="round"/>
<polyline points="127.20,712.40 154.76,710.00 182.32,706.25 209.88,640.50 237.44,501.10 265.00,476.60 320.12,507.90 375.24,543.90 430.36,591.25" fill="none" stroke="#000" stroke-width="3.45" stroke-linejoin="round" stroke-linecap="round"/>
<polyline points="127.20,685.00 154.76,660.00 182.32,627.50 209.88,424.70 237.44,652.50 265.00,684.50 320.12,700.75 375.24,692.60 430.36,684.40" fill="none" stroke="#000" stroke-width="3.4" stroke-linejoin="round" stroke-linecap="round"/>
<polygon points="127.20,520.90 135.40,535.10 119.00,535.10" fill="#000"/>
<polygon points="154.76,503.15 162.96,517.35 146.56,517.35" fill="#000"/>
<polygon points="182.32,482.90 190.52,497.10 174.12,497.10" fill="#000"/>
<polygon points="209.88,450.90 218.08,465.10 201.68,465.10" fill="#000"/>
<polygon points="237.44,437.90 245.64,452.10 229.24,452.10" fill="#000"/>
<polygon points="265.00,426.50 273.20,440.70 256.80,440.70" fill="#000"/>
<polygon points="320.12,433.50 328.32,447.70 311.92,447.70" fill="#000"/>
<polygon points="375.24,422.30 383.44,436.50 367.04,436.50" fill="#000"/>
<polygon points="430.36,408.80 438.56,423.00 422.16,423.00" fill="#000"/>
<polygon points="127.20,705.30 134.10,712.40 127.20,719.50 120.30,712.40" fill="#000"/>
<polygon points="154.76,702.90 161.66,710.00 154.76,717.10 147.86,710.00" fill="#000"/>
<polygon points="182.32,699.15 189.22,706.25 182.32,713.35 175.42,706.25" fill="#000"/>
<polygon points="209.88,633.40 216.78,640.50 209.88,647.60 202.98,640.50" fill="#000"/>
<polygon points="237.44,494.00 244.34,501.10 237.44,508.20 230.54,501.10" fill="#000"/>
<polygon points="265.00,469.50 271.90,476.60 265.00,483.70 258.10,476.60" fill="#000"/>
<polygon points="320.12,500.80 327.02,507.90 320.12,515.00 313.22,507.90" fill="#000"/>
<polygon points="375.24,536.80 382.14,543.90 375.24,551.00 368.34,543.90" fill="#000"/>
<polygon points="430.36,584.15 437.26,591.25 430.36,598.35 423.46,591.25" fill="#000"/>
<line x1="127.20" y1="678.20" x2="127.20" y2="691.80" stroke="#000" stroke-width="2.9"/>
<line x1="121.31" y1="681.60" x2="133.09" y2="688.40" stroke="#000" stroke-width="2.9"/>
<line x1="133.09" y1="681.60" x2="121.31" y2="688.40" stroke="#000" stroke-width="2.9"/>
<line x1="154.76" y1="653.20" x2="154.76" y2="666.80" stroke="#000" stroke-width="2.9"/>
<line x1="148.87" y1="656.60" x2="160.65" y2="663.40" stroke="#000" stroke-width="2.9"/>
<line x1="160.65" y1="656.60" x2="148.87" y2="663.40" stroke="#000" stroke-width="2.9"/>
<line x1="182.32" y1="620.70" x2="182.32" y2="634.30" stroke="#000" stroke-width="2.9"/>
<line x1="176.43" y1="624.10" x2="188.21" y2="630.90" stroke="#000" stroke-width="2.9"/>
<line x1="188.21" y1="624.10" x2="176.43" y2="630.90" stroke="#000" stroke-width="2.9"/>
<line x1="209.88" y1="417.90" x2="209.88" y2="431.50" stroke="#000" stroke-width="2.9"/>
<line x1="203.99" y1="421.30" x2="215.77" y2="428.10" stroke="#000" stroke-width="2.9"/>
<line x1="215.77" y1="421.30" x2="203.99" y2="428.10" stroke="#000" stroke-width="2.9"/>
<line x1="237.44" y1="645.70" x2="237.44" y2="659.30" stroke="#000" stroke-width="2.9"/>
<line x1="231.55" y1="649.10" x2="243.33" y2="655.90" stroke="#000" stroke-width="2.9"/>
<line x1="243.33" y1="649.10" x2="231.55" y2="655.90" stroke="#000" stroke-width="2.9"/>
<line x1="265.00" y1="677.70" x2="265.00" y2="691.30" stroke="#000" stroke-width="2.9"/>
<line x1="259.11" y1="681.10" x2="270.89" y2="687.90" stroke="#000" stroke-width="2.9"/>
<line x1="270.89" y1="681.10" x2="259.11" y2="687.90" stroke="#000" stroke-width="2.9"/>
<line x1="320.12" y1="693.95" x2="320.12" y2="707.55" stroke="#000" stroke-width="2.9"/>
<line x1="314.23" y1="697.35" x2="326.01" y2="704.15" stroke="#000" stroke-width="2.9"/>
<line x1="326.01" y1="697.35" x2="314.23" y2="704.15" stroke="#000" stroke-width="2.9"/>
<line x1="375.24" y1="685.80" x2="375.24" y2="699.40" stroke="#000" stroke-width="2.9"/>
<line x1="369.35" y1="689.20" x2="381.13" y2="696.00" stroke="#000" stroke-width="2.9"/>
<line x1="381.13" y1="689.20" x2="369.35" y2="696.00" stroke="#000" stroke-width="2.9"/>
<line x1="430.36" y1="677.60" x2="430.36" y2="691.20" stroke="#000" stroke-width="2.9"/>
<line x1="424.47" y1="681.00" x2="436.25" y2="687.80" stroke="#000" stroke-width="2.9"/>
<line x1="436.25" y1="681.00" x2="424.47" y2="687.80" stroke="#000" stroke-width="2.9"/>
<text x="0" y="0" font-size="20.6" text-anchor="start" font-family="Liberation Sans, sans-serif" fill="#000" stroke="#000" stroke-width="0.25" text-rendering="geometricPrecision" transform="translate(17.05 224.10) rotate(-90) scale(1 1.05)">sEpo, mU/mL</text>
<text x="0" y="0" font-size="20.6" text-anchor="start" font-family="Liberation Sans, sans-serif" fill="#000" stroke="#000" stroke-width="0.25" text-rendering="geometricPrecision" transform="translate(513.70 195.10) rotate(-90) scale(1 1.05)">Hb, g/dL</text>
<text x="0" y="0" font-size="20.55" text-anchor="start" font-family="Liberation Sans, sans-serif" fill="#000" stroke="#000" stroke-width="0.25" text-rendering="geometricPrecision" transform="translate(19.20 702.20) rotate(-90) scale(1 1.05)">Reticulocyte count, %, or sTfR, mg/dL</text>
<text x="0" y="0" font-size="20.6" text-anchor="start" font-family="Liberation Sans, sans-serif" fill="#000" stroke="#000" stroke-width="0.25" text-rendering="geometricPrecision" transform="translate(512.80 566.70) rotate(-90) scale(1 1.05)">HFR, %</text>
<text x="0" y="0" font-size="19.3" text-anchor="middle" font-family="Liberation Sans, sans-serif" fill="#000" stroke="#000" stroke-width="0.25" text-rendering="geometricPrecision" transform="translate(266.20 786.70) scale(1.067 1)">Time, days</text>
</svg>
</body></html>
